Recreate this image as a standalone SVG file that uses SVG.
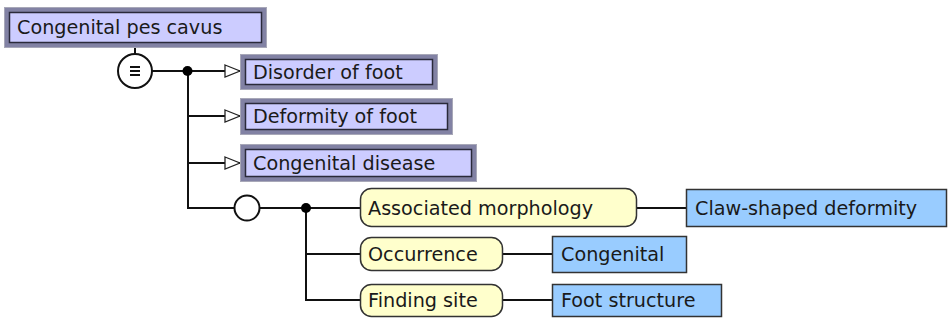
<svg xmlns="http://www.w3.org/2000/svg" width="949" height="320" viewBox="0 0 949 320">
<defs>
<style>
.t{font-family:"DejaVu Sans",Verdana,sans-serif;font-size:19.2px;fill:#1a1a1a}
.outer{fill:#8282a4;stroke:#a8a8b8;stroke-width:1}
.inner{fill:#ccccff;stroke:#2a2a3a;stroke-width:1.5}
.pill{fill:#ffffcc;stroke:#333333;stroke-width:1.5}
.val{fill:#99ccff;stroke:#333333;stroke-width:1.5}
.ln{stroke:#111;stroke-width:2;fill:none}
</style>
<marker id="isa" markerWidth="17" markerHeight="14" refX="16" refY="7" orient="auto" markerUnits="userSpaceOnUse">
<path d="M1,1 L16,7 L1,13 Z" fill="#fff" stroke="#222" stroke-width="1.3"/>
</marker>
</defs>
<g id="connectors">
<line class="ln" x1="135" y1="48" x2="135" y2="54"/>
<line class="ln" x1="152" y1="71" x2="240" y2="71" marker-end="url(#isa)"/>
<line class="ln" x1="188" y1="71" x2="188" y2="208"/>
<line class="ln" x1="188" y1="116" x2="240" y2="116" marker-end="url(#isa)"/>
<line class="ln" x1="188" y1="163" x2="240" y2="163" marker-end="url(#isa)"/>
<line class="ln" x1="187" y1="208" x2="234.5" y2="208"/>
<line class="ln" x1="259.5" y1="208" x2="360" y2="208"/>
<line class="ln" x1="306" y1="208" x2="306" y2="300"/>
<line class="ln" x1="305" y1="254" x2="360" y2="254"/>
<line class="ln" x1="305" y1="300" x2="360" y2="300"/>
<line class="ln" x1="637" y1="208" x2="686" y2="208"/>
<line class="ln" x1="503" y1="254" x2="552" y2="254"/>
<line class="ln" x1="503" y1="300" x2="552" y2="300"/>
<circle cx="187.5" cy="71" r="5" fill="#000"/>
<circle cx="306" cy="208" r="5" fill="#000"/>
</g>
<g id="n-pes-cavus">
<rect class="outer" x="4.5" y="7.5" width="262" height="40"/>
<rect class="inner" x="9.5" y="12.5" width="252" height="30"/>
<text class="t" x="17" y="34">Congenital pes cavus</text>
</g>
<g id="n-equiv">
<circle cx="135" cy="71" r="17" fill="#fff" stroke="#111" stroke-width="2"/>
<path d="M130,67 H140 M130,71 H140 M130,75 H140" stroke="#111" stroke-width="1.8"/>
</g>
<g id="n-disorder">
<rect class="outer" x="240.5" y="54.5" width="197" height="35"/>
<rect class="inner" x="245.5" y="59.5" width="187" height="25"/>
<text class="t" x="253" y="79">Disorder of foot</text>
</g>
<g id="n-deformity">
<rect class="outer" x="240.5" y="98.5" width="212" height="36"/>
<rect class="inner" x="245.5" y="103.5" width="202" height="26"/>
<text class="t" x="253" y="123">Deformity of foot</text>
</g>
<g id="n-congdisease">
<rect class="outer" x="240.5" y="144.5" width="236" height="37"/>
<rect class="inner" x="245.5" y="149.5" width="226" height="27"/>
<text class="t" x="253" y="170">Congenital disease</text>
</g>
<g id="n-group">
<circle cx="247" cy="208" r="12.5" fill="#fff" stroke="#111" stroke-width="2"/>
</g>
<g id="n-assoc">
<rect class="pill" x="360.5" y="188.5" width="276" height="38" rx="11"/>
<text class="t" x="368" y="215">Associated morphology</text>
</g>
<g id="n-claw">
<rect class="val" x="686.5" y="189.5" width="260" height="37"/>
<text class="t" x="695" y="215">Claw-shaped deformity</text>
</g>
<g id="n-occurrence">
<rect class="pill" x="360.5" y="237.5" width="142" height="33" rx="11"/>
<text class="t" x="368" y="261">Occurrence</text>
</g>
<g id="n-congenital">
<rect class="val" x="552.5" y="236.5" width="134" height="36"/>
<text class="t" x="561" y="261">Congenital</text>
</g>
<g id="n-findingsite">
<rect class="pill" x="360.5" y="284.5" width="142" height="32" rx="11"/>
<text class="t" x="368" y="307">Finding site</text>
</g>
<g id="n-foot">
<rect class="val" x="552.5" y="284.5" width="169" height="32"/>
<text class="t" x="561" y="307">Foot structure</text>
</g>
</svg>
